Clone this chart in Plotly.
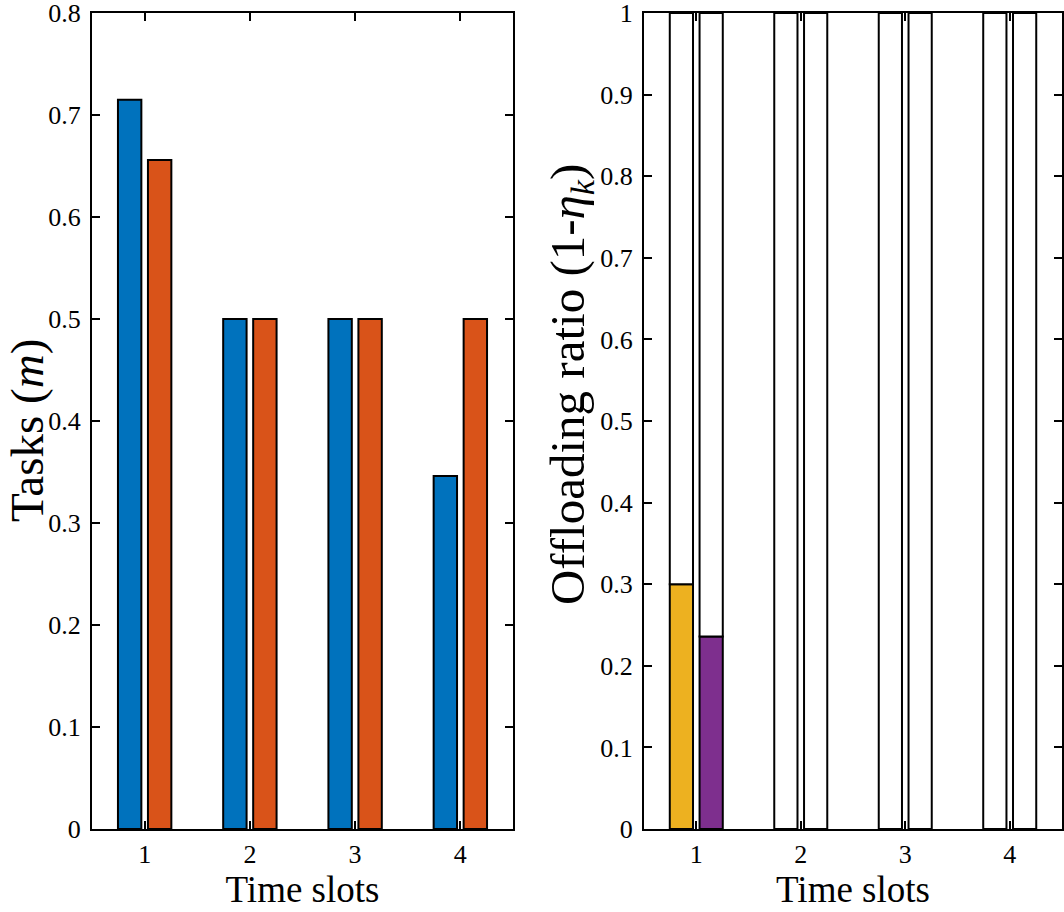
import plotly.graph_objects as go

slots = [1, 2, 3, 4]
tick_text = ["1", "2", "3", "4"]
tasks_a = [0.715, 0.5, 0.5, 0.346]
tasks_b = [0.656, 0.5, 0.5, 0.5]
ratio_a = [0.300, 0.0, 0.0, 0.0]
ratio_b = [0.236, 0.0, 0.0, 0.0]
left_yticks = [0, 0.1, 0.2, 0.3, 0.4, 0.5, 0.6, 0.7, 0.8]
left_ytext = ["0", "0.1", "0.2", "0.3", "0.4", "0.5", "0.6", "0.7", "0.8"]
right_yticks = [0, 0.1, 0.2, 0.3, 0.4, 0.5, 0.6, 0.7, 0.8, 0.9, 1]
right_ytext = ["0", "0.1", "0.2", "0.3", "0.4", "0.5", "0.6", "0.7", "0.8", "0.9", "1"]

BLUE = "#0072BD"
ORANGE = "#D95319"
YELLOW = "#EDB120"
PURPLE = "#7E2F8E"
FONT = "Liberation Serif"

fig = go.Figure()
line = dict(color="black", width=2)

fig.add_trace(go.Bar(x=slots, y=tasks_a, marker=dict(color=BLUE, line=line),
                     offsetgroup="a", xaxis="x", yaxis="y", showlegend=False))
fig.add_trace(go.Bar(x=slots, y=tasks_b, marker=dict(color=ORANGE, line=line),
                     offsetgroup="b", xaxis="x", yaxis="y", showlegend=False))

rest_a = [1 - v for v in ratio_a]
rest_b = [1 - v for v in ratio_b]
fig.add_trace(go.Bar(x=slots, y=ratio_a, marker=dict(color=YELLOW, line=line),
                     offsetgroup="c", xaxis="x2", yaxis="y2", showlegend=False))
fig.add_trace(go.Bar(x=slots, y=rest_a, base=ratio_a, marker=dict(color="white", line=line),
                     offsetgroup="c", xaxis="x2", yaxis="y2", showlegend=False))
fig.add_trace(go.Bar(x=slots, y=ratio_b, marker=dict(color=PURPLE, line=line),
                     offsetgroup="d", xaxis="x2", yaxis="y2", showlegend=False))
fig.add_trace(go.Bar(x=slots, y=rest_b, base=ratio_b, marker=dict(color="white", line=line),
                     offsetgroup="d", xaxis="x2", yaxis="y2", showlegend=False))

axis_common = dict(showline=True, linecolor="black", linewidth=2, mirror="ticks",
                   ticks="inside", ticklen=8, tickwidth=2, tickcolor="black",
                   showgrid=False, zeroline=False, automargin=False,
                   ticklabeloverflow="allow",
                   tickfont=dict(family=FONT, size=26, color="black"))

xtitle_font = dict(family=FONT, size=37, color="black")

fig.update_layout(
    width=1064, height=912,
    margin=dict(l=0, r=0, t=13, b=83),
    paper_bgcolor="white", plot_bgcolor="white",
    barmode="group", bargap=0.43, bargroupgap=0.22,
    font=dict(family=FONT, color="black"),
    xaxis=dict(domain=[0.0865, 0.4821], range=[0.5, 4.5], tickvals=slots, ticktext=tick_text,
               title=dict(text="Time slots", font=xtitle_font, standoff=4),
               ticklabelstandoff=1, anchor="y", **axis_common),
    yaxis=dict(domain=[0, 1], range=[0, 0.8], tickvals=left_yticks, ticktext=left_ytext,
               ticklabelstandoff=4, anchor="x", **axis_common),
    xaxis2=dict(domain=[0.6053, 0.9981], range=[0.5, 4.5], tickvals=slots, ticktext=tick_text,
                title=dict(text="Time slots", font=xtitle_font, standoff=4),
                ticklabelstandoff=1, anchor="y2", **axis_common),
    yaxis2=dict(domain=[0, 1], range=[0, 1], tickvals=right_yticks, ticktext=right_ytext,
                ticklabelstandoff=4, anchor="x2", **axis_common),
    annotations=[
        dict(text="Tasks (<i>m</i>)", textangle=-90, xref="paper", yref="paper",
             x=0.0254, y=0.4877, xanchor="center", yanchor="middle", showarrow=False,
             font=dict(family=FONT, size=47, color="black")),
        dict(text="Offloading ratio (1-<i>η</i><sub><i>k</i></sub>)", textangle=-90,
             xref="paper", yref="paper", x=0.5357, y=0.5453, xanchor="center",
             yanchor="middle", showarrow=False,
             font=dict(family=FONT, size=49, color="black")),
    ],
)

fig.write_html("out.html", config={"displayModeBar": False},
               post_script="document.body.style.margin='0';document.body.style.padding='0';")
